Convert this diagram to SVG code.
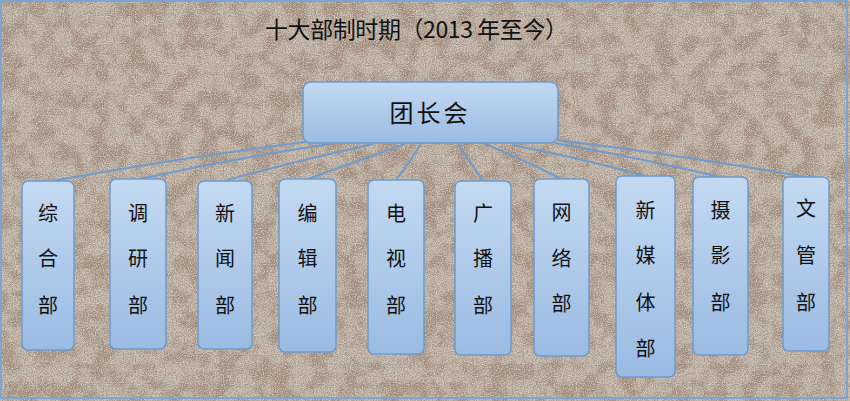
<svg xmlns="http://www.w3.org/2000/svg" width="850" height="401" viewBox="0 0 850 401">
<defs>
<style>
.box{stroke:#6e9bcb;stroke-width:1.5;fill:url(#boxg)}
.lbl{font-family:"Noto Sans CJK SC","Noto Sans",sans-serif;font-size:20px;fill:#111;text-anchor:middle}
.title{font-family:"Noto Sans CJK SC","Noto Sans",sans-serif;font-size:23px;fill:#111}
.con{fill:none;stroke:#6f9ccc;stroke-width:2}
</style>
<linearGradient id="boxg" x1="0" y1="0" x2="0" y2="1">
<stop offset="0" stop-color="#c3d9f2"/>
<stop offset="1" stop-color="#9abbe2"/>
</linearGradient>
<filter id="patches" x="0" y="0" width="100%" height="100%" color-interpolation-filters="sRGB">
<feTurbulence type="fractalNoise" baseFrequency="0.055" numOctaves="4" seed="7" result="n"/>
<feColorMatrix in="n" type="matrix" values="0 0 0 0 0.64  0 0 0 0 0.56  0 0 0 0 0.50  4.5 0 0 0 -1.9"/>
</filter>
<filter id="grain" x="0" y="0" width="100%" height="100%" color-interpolation-filters="sRGB">
<feTurbulence type="fractalNoise" baseFrequency="0.85" numOctaves="1" seed="2" result="g"/>
<feColorMatrix in="g" type="matrix" values="0 0 0 0 0.86  0 0 0 0 0.83  0 0 0 0 0.79  5 0 0 0 -2.3"/>
</filter>
<filter id="grain2" x="0" y="0" width="100%" height="100%" color-interpolation-filters="sRGB">
<feTurbulence type="fractalNoise" baseFrequency="0.9" numOctaves="1" seed="11" result="g"/>
<feColorMatrix in="g" type="matrix" values="0 0 0 0 0.55  0 0 0 0 0.47  0 0 0 0 0.42  5 0 0 0 -2.4"/>
</filter>
</defs>
<g id="background">
<rect x="0" y="0" width="850" height="401" fill="#c0b4a7"/>
<rect x="0" y="0" width="850" height="401" filter="url(#patches)" opacity="0.85"/>
<rect x="0" y="0" width="850" height="401" filter="url(#grain)" opacity="0.7"/>
<rect x="0" y="0" width="850" height="401" filter="url(#grain2)" opacity="0.5"/>
<rect x="1" y="1" width="846" height="397" fill="none" stroke="#7aa6d6" stroke-width="2"/>
</g>
<text class="title" x="265" y="38" textLength="303" lengthAdjust="spacing">十大部制时期（2013 年至今）</text>
<g id="connectors">
<path class="con" d="M305,142 Q180,158 52,181"/>
<path class="con" d="M330,144 Q235,158 140,179"/>
<path class="con" d="M373,144 Q300,160 227,180"/>
<path class="con" d="M405,144 Q360,160 308,179"/>
<path class="con" d="M421,144 Q410,162 396,180"/>
<path class="con" d="M458,144 Q470,162 483,181"/>
<path class="con" d="M485,144 Q525,160 561,179"/>
<path class="con" d="M512,145 Q580,158 645,176"/>
<path class="con" d="M555,143 Q640,158 720,177"/>
<path class="con" d="M557,140 Q680,155 806,177"/>
</g>
<g id="n-tuanzhanghui">
<rect class="box" x="303" y="82" width="255" height="61" rx="8"/>
<text x="430" y="122" style="font-family:'Noto Sans CJK SC','Noto Sans',sans-serif;font-size:24px;fill:#111;text-anchor:middle;letter-spacing:3px">团长会</text>
</g>
<g id="n-zonghe">
<rect class="box" x="22" y="181" width="52" height="169" rx="6"/>
<text class="lbl" x="48" y="221">综</text><text class="lbl" x="48" y="266">合</text><text class="lbl" x="48" y="313">部</text>
</g>
<g id="n-diaoyan">
<rect class="box" x="110" y="179" width="56" height="170" rx="6"/>
<text class="lbl" x="138" y="221">调</text><text class="lbl" x="138" y="266">研</text><text class="lbl" x="138" y="313">部</text>
</g>
<g id="n-xinwen">
<rect class="box" x="198" y="181" width="54" height="168" rx="6"/>
<text class="lbl" x="225" y="221">新</text><text class="lbl" x="225" y="266">闻</text><text class="lbl" x="225" y="313">部</text>
</g>
<g id="n-bianji">
<rect class="box" x="279" y="179" width="57" height="173" rx="6"/>
<text class="lbl" x="307.5" y="221">编</text><text class="lbl" x="307.5" y="266">辑</text><text class="lbl" x="307.5" y="313">部</text>
</g>
<g id="n-dianshi">
<rect class="box" x="368" y="180" width="56" height="174" rx="6"/>
<text class="lbl" x="396" y="221">电</text><text class="lbl" x="396" y="266">视</text><text class="lbl" x="396" y="313">部</text>
</g>
<g id="n-guangbo">
<rect class="box" x="455" y="181" width="56" height="174" rx="6"/>
<text class="lbl" x="483" y="221">广</text><text class="lbl" x="483" y="266">播</text><text class="lbl" x="483" y="313">部</text>
</g>
<g id="n-wangluo">
<rect class="box" x="534" y="179" width="55" height="177" rx="6"/>
<text class="lbl" x="561.5" y="220">网</text><text class="lbl" x="561.5" y="266">络</text><text class="lbl" x="561.5" y="311">部</text>
</g>
<g id="n-xinmeiti">
<rect class="box" x="616" y="176" width="59" height="201" rx="6"/>
<text class="lbl" x="645.5" y="218">新</text><text class="lbl" x="645.5" y="263">媒</text><text class="lbl" x="645.5" y="310">体</text><text class="lbl" x="645.5" y="356">部</text>
</g>
<g id="n-sheying">
<rect class="box" x="693" y="177" width="55" height="178" rx="6"/>
<text class="lbl" x="720.5" y="218">摄</text><text class="lbl" x="720.5" y="263">影</text><text class="lbl" x="720.5" y="310">部</text>
</g>
<g id="n-wenguan">
<rect class="box" x="783" y="177" width="46" height="174" rx="6"/>
<text class="lbl" x="806" y="216">文</text><text class="lbl" x="806" y="263">管</text><text class="lbl" x="806" y="310">部</text>
</g>
</svg>
